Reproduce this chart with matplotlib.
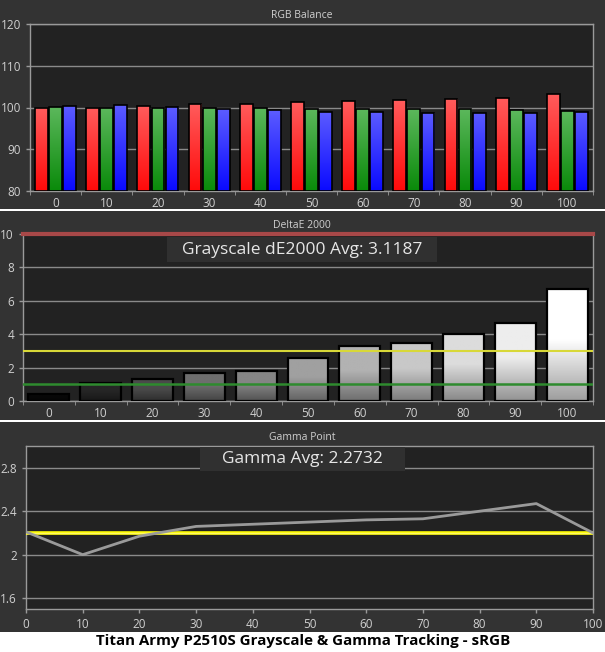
import numpy as np
import matplotlib
matplotlib.use("Agg")
import matplotlib.pyplot as plt
from matplotlib.patches import Rectangle
from matplotlib.colors import to_rgb

# ---------------- data ----------------
levels = [0, 10, 20, 30, 40, 50, 60, 70, 80, 90, 100]
rgb_red = [99.9, 99.9, 100.4, 100.9, 100.9, 101.3, 101.6, 101.8, 102.1, 102.3, 103.3]
rgb_green = [100.2, 99.9, 99.9, 99.9, 99.9, 99.7, 99.7, 99.7, 99.7, 99.4, 99.2]
rgb_blue = [100.4, 100.6, 100.1, 99.7, 99.3, 99.0, 99.0, 98.8, 98.8, 98.6, 99.0]
de2000 = [0.4, 1.1, 1.3, 1.7, 1.8, 2.6, 3.3, 3.5, 4.0, 4.7, 6.7]
de_avg_label = "Grayscale dE2000 Avg: 3.1187"
gamma_vals = [2.21, 2.0, 2.17, 2.26, 2.28, 2.30, 2.32, 2.33, 2.40, 2.47, 2.2]
gamma_target = 2.2
gamma_avg_label = "Gamma Avg: 2.2732"
rgb_yticks = [80, 90, 100, 110, 120]
de_yticks = [0, 2, 4, 6, 8, 10]
gamma_yticks = [1.6, 2.0, 2.4, 2.8]
gamma_yticklabels = ["1.6", "2", "2.4", "2.8"]
caption = "Titan Army P2510S Grayscale & Gamma Tracking - sRGB"

# ---------------- style ----------------
W, H = 605, 652
DPI = 100
PANEL_BG = "#333333"
AX_BG = "#222222"
GRID = "#8a8a8a"
SPINE = "#9a9a9a"
TXT = "#d0d0d0"
plt.rcParams['font.family'] = ['Open Sans', 'DejaVu Sans']

fig = plt.figure(figsize=(W / DPI, H / DPI), dpi=DPI, facecolor="white")


def px_rect(x0, y0, x1, y1):
    """pixel box (top-left origin) -> figure fraction rect"""
    return [x0 / W, 1 - y1 / H, (x1 - x0) / W, (y1 - y0) / H]


# panel backgrounds
for (y0, y1) in [(0, 209), (210.5, 420), (421.5, 632)]:
    fig.patches.append(Rectangle((0, 1 - y1 / H), 1, (y1 - y0) / H,
                                 transform=fig.transFigure, facecolor=PANEL_BG,
                                 edgecolor="none", zorder=-5))


def style_ax(ax):
    ax.set_zorder(2)
    ax.set_facecolor(AX_BG)
    for s in ax.spines.values():
        s.set_color(SPINE)
        s.set_linewidth(1.0)
    ax.tick_params(colors=SPINE, labelcolor=TXT, labelsize=8.5, length=3, width=1)


def gradient_fill(ax, patch, top, bottom, hold=0.0):
    x0, y0 = patch.get_x(), patch.get_y()
    w, h = patch.get_width(), patch.get_height()
    n = 64
    t = np.linspace(0, 1, n)  # 0 = top, 1 = bottom
    f = np.clip((t - hold) / (1 - hold), 0, 1) if hold > 0 else t
    ct, cb = np.array(to_rgb(top)), np.array(to_rgb(bottom))
    img = (ct[None, :] * (1 - f[:, None]) + cb[None, :] * f[:, None])[:, None, :]
    im = ax.imshow(img, extent=[x0, x0 + w, y0, y0 + h], aspect="auto",
                   origin="upper", zorder=patch.get_zorder() - 0.1,
                   interpolation="bilinear")
    im.set_clip_path(patch)


x = np.arange(len(levels))

# ---------------- panel 1: RGB Balance ----------------
ax1 = fig.add_axes(px_rect(30, 24, 593, 191))
style_ax(ax1)
bw = 0.25
off = 0.275
series = [(rgb_red, -off, "#ff5c5c", "#ff0a0a"),
          (rgb_green, 0, "#5cb85c", "#0a8a0a"),
          (rgb_blue, off, "#5c5cff", "#0a0aff")]
for vals, o, ctop, cbot in series:
    bars = ax1.bar(x + o, np.array(vals) - 80, bottom=80, width=bw,
                   facecolor="none", edgecolor="black", linewidth=1.2, zorder=3)
    for b in bars:
        gradient_fill(ax1, b, ctop, cbot)
ax1.set_xlim(-0.5, len(levels) - 0.5)
ax1.set_ylim(80, 120)
ax1.set_yticks(rgb_yticks)
ax1.set_xticks(x)
ax1.set_xticklabels([str(v) for v in levels])
ax1.set_xticks(np.arange(-0.5, len(levels)), minor=True)
ax1.tick_params(axis="x", which="major", length=0, pad=4)
ax1.tick_params(axis="x", which="minor", length=3, color=SPINE)
ax1.yaxis.grid(True, color=GRID, linewidth=1.0, zorder=1)
ax1.set_axisbelow(True)
fig.text(302 / W, 1 - 15 / H, "RGB Balance", ha="center", va="center",
         color=TXT, fontsize=7.5)

# ---------------- panel 2: DeltaE 2000 ----------------
ax2 = fig.add_axes(px_rect(23, 234, 593, 401))
style_ax(ax2)
gray_top = ["#080808", "#262626", "#4a4a4a", "#6e6e6e", "#858585", "#a0a0a0",
            "#b2b2b2", "#c8c8c8", "#dcdcdc", "#ededed", "#ffffff"]
bars = ax2.bar(x, de2000, width=0.79, facecolor="none", edgecolor="black",
               linewidth=1.6, zorder=3)
for b, c in zip(bars, gray_top):
    ct = np.array(to_rgb(c))
    gradient_fill(ax2, b, tuple(ct), tuple(ct * 0.62), hold=0.45)
ax2.set_xlim(-0.5, len(levels) - 0.5)
ax2.set_ylim(0, 10)
ax2.set_yticks(de_yticks)
ax2.set_xticks(x)
ax2.set_xticklabels([str(v) for v in levels])
ax2.set_xticks(np.arange(-0.5, len(levels)), minor=True)
ax2.tick_params(axis="x", which="major", length=0, pad=4)
ax2.tick_params(axis="x", which="minor", length=3, color=SPINE)
ax2.yaxis.grid(True, color=GRID, linewidth=1.0, zorder=1)
ax2.set_axisbelow(True)
ax2.axhline(10, color="#a84848", linewidth=3, zorder=4, clip_on=False)
ax2.axhline(3, color="#d8d838", linewidth=1.5, zorder=4)
ax2.axhline(1, color="#2e8b2e", linewidth=1.8, zorder=4)
ax2.add_patch(Rectangle((0.2526, 0.832), 0.4734, 0.15, transform=ax2.transAxes,
                        facecolor="#303030", edgecolor="none", zorder=5))
ax2.text(0.489, 0.905, de_avg_label, transform=ax2.transAxes, ha="center",
         va="center", color="#e6e6e6", fontsize=12.5, zorder=6)
fig.text(302 / W, 1 - 226 / H, "DeltaE 2000", ha="center", va="center",
         color=TXT, fontsize=7.5)

# ---------------- panel 3: Gamma Point ----------------
ax3 = fig.add_axes(px_rect(26, 446, 593, 609))
style_ax(ax3)
ax3.set_xlim(0, 100)
ax3.set_ylim(1.5, 3.0)
ax3.set_xticks(levels)
ax3.set_yticks(gamma_yticks)
ax3.set_yticklabels(gamma_yticklabels)
ax3.yaxis.grid(True, color=GRID, linewidth=1.0, zorder=1)
ax3.set_axisbelow(True)
ax3.axhline(gamma_target, color="#ffff00", linewidth=2.6, zorder=3)
ax3.axhline(gamma_target, color="#fff86a", linewidth=1.0, zorder=3)
ax3.plot(levels, gamma_vals, color="#9a9a9a", linewidth=2, zorder=4)
ax3.add_patch(Rectangle((0.307, 0.847), 0.361, 0.147, transform=ax3.transAxes,
                        facecolor="#303030", edgecolor="none", zorder=5))
ax3.text(0.4875, 0.918, gamma_avg_label, transform=ax3.transAxes, ha="center",
         va="center", color="#e6e6e6", fontsize=12.5, zorder=6)
fig.text(302 / W, 1 - 437 / H, "Gamma Point", ha="center", va="center",
         color=TXT, fontsize=7.5)

# ---------------- caption ----------------
fig.text(303 / W, 1 - 641 / H, caption, ha="center", va="center",
         color="black", fontsize=10.9, fontweight="bold")

fig.savefig("out.png", dpi=DPI, facecolor=fig.get_facecolor())
